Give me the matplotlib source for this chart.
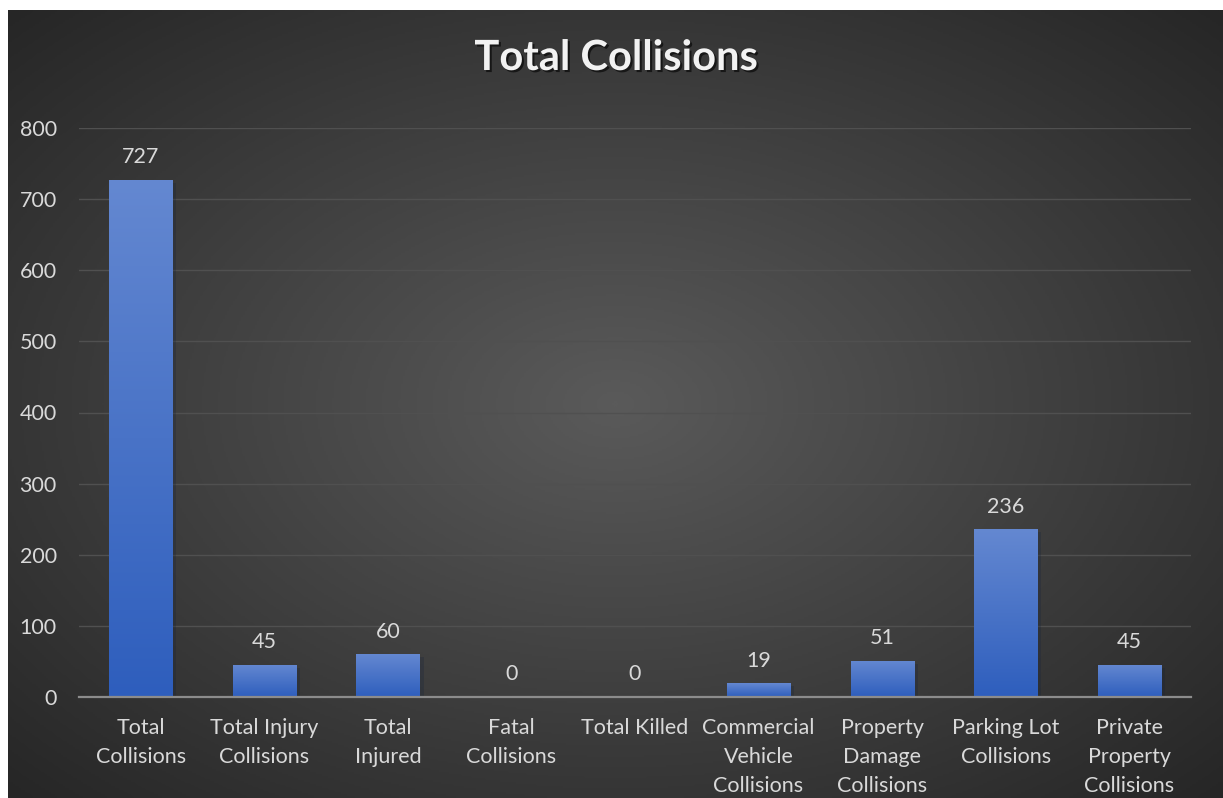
import numpy as np
import matplotlib
matplotlib.use("Agg")
import matplotlib.pyplot as plt
import matplotlib.patheffects as pe
from matplotlib.colors import LinearSegmentedColormap

# Data
categories = ["Total\nCollisions", "Total Injury\nCollisions", "Total\nInjured",
              "Fatal\nCollisions", "Total Killed", "Commercial\nVehicle\nCollisions",
              "Property\nDamage\nCollisions", "Parking Lot\nCollisions",
              "Private\nProperty\nCollisions"]
values = [727, 45, 60, 0, 0, 19, 51, 236, 45]
y_ticks = [0, 100, 200, 300, 400, 500, 600, 700, 800]

plt.rcParams['font.family'] = ['Lato', 'DejaVu Sans']
text_col = '#d9d9d9'

W, H = 1223, 798
fig = plt.figure(figsize=(W / 100, H / 100), dpi=100, facecolor='white')

# dark radial gradient background
bg = fig.add_axes([8 / W, 0, 1 - 8 / W, 788 / H], zorder=0)
yy, xx = np.mgrid[-1:1:400j, -1:1:600j]
r = np.sqrt(xx ** 2 + yy ** 2) / np.sqrt(2)
bg_cmap = LinearSegmentedColormap.from_list('bg', ['#5a5a5a', '#404040', '#262626'])
bg.imshow(r, cmap=bg_cmap, aspect='auto', extent=[0, 1, 0, 1])
bg.axis('off')

# plot area
ax = fig.add_axes([79 / W, 101 / H, 1112 / W, 569 / H], zorder=1)
ax.patch.set_alpha(0)
x = np.arange(len(values))
bars = ax.bar(x, values, width=0.51, color='#4472c4', zorder=3,
              path_effects=[pe.SimplePatchShadow(offset=(3, -2), alpha=0.25), pe.Normal()])

# vertical gradient on each bar
grad = LinearSegmentedColormap.from_list('bar', ['#2e5ebd', '#6488d1'])
for b in bars:
    x0, y0, w, h = b.get_x(), b.get_y(), b.get_width(), b.get_height()
    if h <= 0:
        continue
    im = ax.imshow(np.linspace(0, 1, 256).reshape(-1, 1), cmap=grad, origin='lower',
                   extent=[x0, x0 + w, y0, y0 + h], aspect='auto', zorder=3.5)
    im.set_clip_path(b)

# data labels
for xi, v in zip(x, values):
    ax.annotate(str(v), (xi, v), xytext=(0, 9), textcoords='offset points',
                ha='center', va='bottom', color=text_col, fontsize=15.5)

ax.set_xlim(-0.5, len(values) - 0.5)
ax.set_ylim(0, 800)
ax.set_yticks(y_ticks)
ax.set_xticks(x)
ax.set_xticklabels(categories, linespacing=1.58, va='top')
ax.tick_params(length=0, labelcolor=text_col, labelsize=15.5)
ax.tick_params(axis='y', pad=16)
ax.tick_params(axis='x', pad=15)

for s in ['top', 'right', 'left']:
    ax.spines[s].set_visible(False)
ax.spines['bottom'].set_color('#8c8c8c')
ax.spines['bottom'].set_linewidth(1.6)
ax.spines['bottom'].set_zorder(4)
ax.grid(axis='y', color='#505050', linewidth=1, zorder=0)
ax.set_axisbelow(True)

# title
fig.text(616 / W, 1 - 58 / H, "Total Collisions", ha='center', va='center',
         fontsize=30, fontweight='bold', color='#f2f2f2',
         path_effects=[pe.withSimplePatchShadow(offset=(1.5, -1.5), shadow_rgbFace='black', alpha=0.6)])

fig.savefig("out.png", dpi=100, facecolor='white')
